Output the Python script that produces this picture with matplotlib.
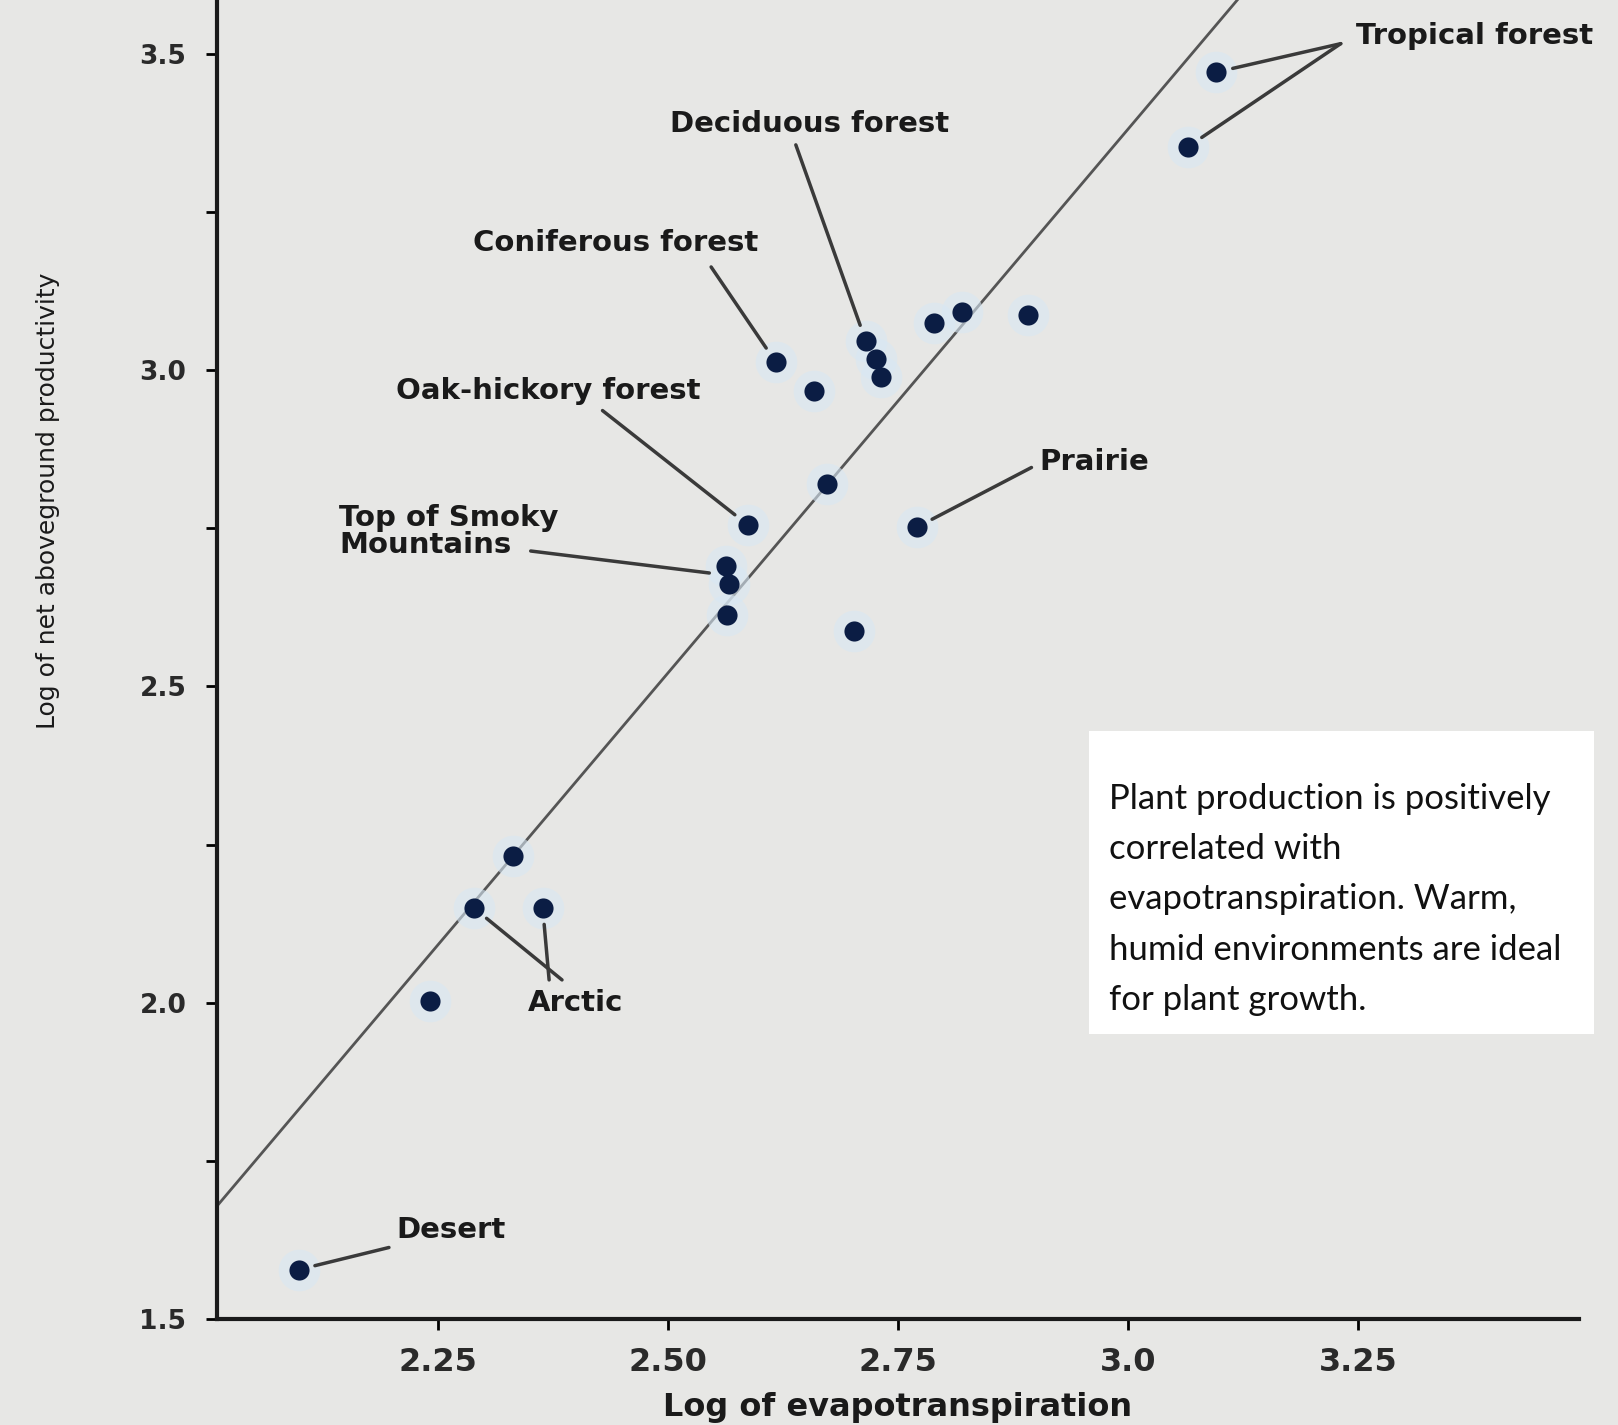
import matplotlib
matplotlib.use("Agg")
import matplotlib.pyplot as plt
from matplotlib.patches import Rectangle

# 数据: 蒸散量 (log) 与地上净生产力 (log)
evap = [2.099, 2.242, 2.289, 2.364, 2.332, 2.564, 2.566, 2.563, 2.587, 2.673, 2.702,
        2.771, 2.617, 2.659, 2.715, 2.726, 2.732, 2.789, 2.819, 2.891, 3.065, 3.096]
prod = [1.578, 2.003, 2.150, 2.150, 2.232, 2.613, 2.662, 2.690, 2.755, 2.820, 2.588,
        2.752, 3.013, 2.967, 3.046, 3.018, 2.989, 3.075, 3.092, 3.087, 3.353, 3.471]

# 回归线
fit_slope = 1.72
fit_icept = -1.779

# 标注: 文字, 文字位置, 引线起点, 指向的点
labels = ["Tropical forest", "Deciduous forest", "Coniferous forest", "Oak-hickory forest",
          "Top of Smoky\nMountains", "Prairie", "Arctic", "Desert"]
label_xy = [(3.248, 3.528), (2.654, 3.389), (2.443, 3.201), (2.370, 2.967),
            (2.143, 2.745), (2.904, 2.855), (2.348, 2.000), (2.205, 1.640)]
label_ha = ["left", "center", "center", "center", "left", "left", "left", "left"]
leaders = [
    [((3.231, 3.516), (3.096, 3.471)), ((3.231, 3.516), (3.065, 3.353))],
    [((2.639, 3.356), (2.715, 3.046))],
    [((2.547, 3.163), (2.617, 3.013))],
    [((2.429, 2.936), (2.587, 2.755))],
    [((2.351, 2.714), (2.563, 2.676))],
    [((2.895, 2.846), (2.771, 2.752))],
    [((2.385, 2.036), (2.289, 2.150)), ((2.371, 2.036), (2.364, 2.150))],
    [((2.197, 1.613), (2.099, 1.578))],
]

note = ("Plant production is positively\ncorrelated with\n"
        "evapotranspiration. Warm,\nhumid environments are ideal\nfor plant growth.")

bg = "#e7e7e5"
fig = plt.figure(figsize=(16.18, 14.25), dpi=100, facecolor=bg)
ax = fig.add_axes([0.134, 0.0744, 0.842, 0.9256])
ax.set_facecolor(bg)

xmin, xmax = 2.01, 3.49
ax.set_xlim(xmin, xmax)
ax.set_ylim(1.5, 3.585)

# 回归线
xs = [xmin, xmax]
ax.plot(xs, [fit_slope * v + fit_icept for v in xs], color="#555555", lw=2, zorder=2)

# 点 (带浅蓝色光晕)
ax.scatter(evap, prod, s=900, color="#d8e8f4", alpha=0.6, lw=0, zorder=3)
ax.scatter(evap, prod, s=210, color="#0b1d44", lw=0, zorder=4)

# 标注文字和引线
for name, pos, ha, segs in zip(labels, label_xy, label_ha, leaders):
    ax.text(pos[0], pos[1], name, ha=ha, va="center", fontsize=21, fontweight="bold",
            color="#1a1a1a", linespacing=0.95, zorder=5)
    for start, end in segs:
        ax.annotate("", xy=end, xytext=start,
                    arrowprops=dict(arrowstyle="-", color="#3a3a3a", lw=2.5,
                                    shrinkA=0, shrinkB=12), zorder=5)

for s in ["top", "right"]:
    ax.spines[s].set_visible(False)
for s in ["left", "bottom"]:
    ax.spines[s].set_linewidth(3)
    ax.spines[s].set_color("#1a1a1a")

ax.set_xticks([2.25, 2.50, 2.75, 3.0, 3.25])
ax.set_xticklabels(["2.25", "2.50", "2.75", "3.0", "3.25"])
ax.set_yticks([1.5, 2.0, 2.5, 3.0, 3.5])
ax.set_yticklabels(["1.5", "2.0", "2.5", "3.0", "3.5"])
ax.set_yticks([1.75, 2.25, 2.75, 3.25], minor=True)
ax.tick_params(axis="x", which="major", length=8, width=2, labelsize=23,
               labelcolor="#2a2a2a", pad=12)
ax.tick_params(axis="y", which="major", length=8, width=2, labelsize=19,
               labelcolor="#2a2a2a", pad=14)
ax.tick_params(axis="y", which="minor", length=8, width=2)
for t in ax.get_xticklabels() + ax.get_yticklabels():
    t.set_fontweight("bold")

ax.set_xlabel("Log of evapotranspiration", fontsize=23, fontweight="bold",
              color="#1a1a1a", labelpad=10)
ax.set_ylabel("Log of net aboveground productivity", fontsize=18,
              color="#1a1a1a")
ax.yaxis.set_label_coords(-0.115, 0.62)

# 白色说明框
fig.patches.append(Rectangle((0.673, 0.2744), 0.312, 0.2126, transform=fig.transFigure,
                             facecolor="white", edgecolor="none", zorder=6))
fig.text(0.6855, 0.4505, note, ha="left", va="top", fontsize=25, family="Lato",
         color="#111111", linespacing=1.70, zorder=7)

fig.savefig("out.png", dpi=100, facecolor=bg)
